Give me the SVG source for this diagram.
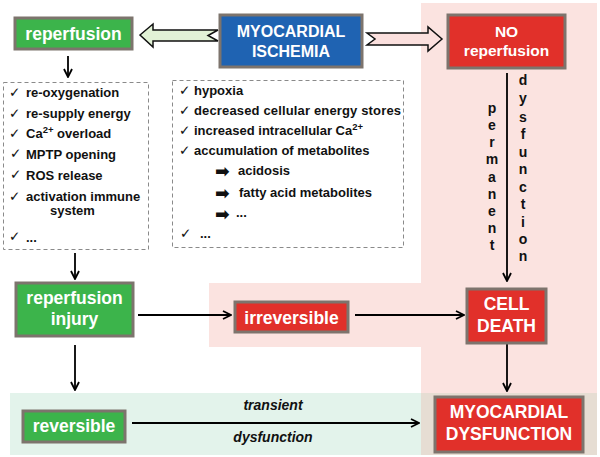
<svg xmlns="http://www.w3.org/2000/svg" width="600" height="457" viewBox="0 0 600 457">
<defs>
<marker id="ah" viewBox="0 0 10 10" refX="9" refY="5" markerWidth="10" markerHeight="10" markerUnits="userSpaceOnUse" orient="auto">
<path d="M1,1 L9,5 L1,9" fill="none" stroke="#000" stroke-width="1.8"/>
</marker>
<style>
.box{stroke:#7d746d;stroke-width:3}
.g{fill:#3cb44b}.r{fill:#e1302a}.b{fill:#1f63b2}
.lbl{font-family:"Liberation Sans",Arial,sans-serif;font-weight:bold;fill:#fff;text-anchor:middle;font-size:17.5px}
.li{font-family:"Liberation Sans",Arial,sans-serif;font-weight:bold;fill:#111;font-size:13px}
.ck{font-family:"DejaVu Sans",sans-serif;fill:#111;font-size:13.5px}
.ar{font-family:"DejaVu Sans",sans-serif;font-weight:bold;fill:#111;font-size:17.5px}
.dash{fill:none;stroke:#8a8a8a;stroke-width:1;stroke-dasharray:4,3}
.conn{stroke:#000;stroke-width:1.8;fill:none;marker-end:url(#ah)}
.vt{font-family:"Liberation Sans",Arial,sans-serif;font-weight:bold;fill:#111;font-size:14px;text-anchor:middle}
.it{font-family:"Liberation Sans",Arial,sans-serif;font-weight:bold;font-style:italic;fill:#111;font-size:14px;text-anchor:middle}
</style>
</defs>
<rect width="600" height="457" fill="#fff"/>
<g id="backgrounds">
<rect x="421" y="3" width="176" height="390" fill="#fbe3e0"/>
<rect x="209" y="283" width="212" height="64" fill="#fbe3e0"/>
<rect x="10" y="393" width="411" height="62" fill="#e3f3eb"/>
<rect x="421" y="393" width="176" height="62" fill="#e6ddd3"/>
</g>
<g id="connectors">
<polygon points="140,35 153,24 153,30 218,30 208,35.5 218,41 153,41 153,47" fill="#e2f2d6" stroke="#111" stroke-width="1.5"/>
<polygon points="367,33 428,33 428,27 442,39 428,51 428,45 367,45 375,39" fill="#fbe0de" stroke="#111" stroke-width="1.5"/>
<line class="conn" x1="68" y1="56" x2="68" y2="77"/>
<line class="conn" x1="75" y1="253" x2="75" y2="279"/>
<line class="conn" x1="75" y1="345" x2="75" y2="390"/>
<line class="conn" x1="138" y1="315" x2="231" y2="315"/>
<line class="conn" x1="355" y1="315" x2="464" y2="315"/>
<line class="conn" x1="507" y1="73" x2="507" y2="281"/>
<line class="conn" x1="507" y1="344" x2="507" y2="391"/>
<line class="conn" x1="132" y1="423" x2="419" y2="423"/>
<text class="vt"><tspan x="492" y="113">p</tspan><tspan x="492" y="130">e</tspan><tspan x="492" y="147">r</tspan><tspan x="492" y="164">m</tspan><tspan x="492" y="182">a</tspan><tspan x="492" y="199">n</tspan><tspan x="492" y="216">e</tspan><tspan x="492" y="233">n</tspan><tspan x="492" y="250">t</tspan></text>
<text class="vt"><tspan x="523" y="85">d</tspan><tspan x="523" y="103">y</tspan><tspan x="523" y="122">s</tspan><tspan x="523" y="139">f</tspan><tspan x="523" y="157">u</tspan><tspan x="523" y="174">n</tspan><tspan x="523" y="192">c</tspan><tspan x="523" y="209">t</tspan><tspan x="523" y="227">i</tspan><tspan x="523" y="244">o</tspan><tspan x="523" y="261">n</tspan></text>
<text class="it" x="273" y="410">transient</text>
<text class="it" x="273" y="442">dysfunction</text>
</g>
<g id="reperfusion">
<rect class="box g" x="15" y="18" width="117" height="31"/>
<text class="lbl" x="73.5" y="40">reperfusion</text>
</g>
<g id="ischemia">
<rect class="box b" x="220" y="15" width="142" height="52"/>
<text class="lbl" x="291" y="37" style="font-size:16px">MYOCARDIAL</text>
<text class="lbl" x="291" y="57" style="font-size:16px">ISCHEMIA</text>
</g>
<g id="no-reperfusion">
<rect class="box r" x="448" y="15" width="117" height="53"/>
<text class="lbl" x="506.5" y="37" style="font-size:15.5px">NO</text>
<text class="lbl" x="506.5" y="56" style="font-size:15.5px">reperfusion</text>
</g>
<g id="reperfusion-list">
<rect class="dash" x="3.5" y="82.5" width="145" height="167"/>
<text class="ck" x="9" y="97">✓</text><text class="li" x="26" y="97">re-oxygenation</text>
<text class="ck" x="9" y="118">✓</text><text class="li" x="26" y="118">re-supply energy</text>
<text class="ck" x="9" y="138">✓</text><text class="li" x="26" y="138">Ca<tspan dy="-5" font-size="9.5px">2+</tspan><tspan dy="5"> overload</tspan></text>
<text class="ck" x="10" y="158">✓</text><text class="li" x="26" y="159">MPTP opening</text>
<text class="ck" x="10" y="179">✓</text><text class="li" x="26" y="180">ROS release</text>
<text class="ck" x="9" y="201">✓</text><text class="li" x="26" y="201">activation immune</text>
<text class="li" x="50" y="215">system</text>
<text class="ck" x="9" y="241">✓</text><text class="li" x="26" y="242">...</text>
</g>
<g id="ischemia-list">
<rect class="dash" x="172.5" y="80.5" width="231" height="167"/>
<text class="ck" x="179" y="95">✓</text><text class="li" x="194" y="95">hypoxia</text>
<text class="ck" x="179" y="115">✓</text><text class="li" x="194" y="115" textLength="207">decreased cellular energy stores</text>
<text class="ck" x="179" y="135">✓</text><text class="li" x="194" y="135">increased intracellular Ca<tspan dy="-5" font-size="9.5px">2+</tspan></text>
<text class="ck" x="179" y="155">✓</text><text class="li" x="194" y="155">accumulation of metabolites</text>
<text class="ar" x="215" y="177">➡</text><text class="li" x="238" y="175">acidosis</text>
<text class="ar" x="215" y="199">➡</text><text class="li" x="239" y="197">fatty acid metabolites</text>
<text class="ar" x="215" y="220">➡</text><text class="li" x="236" y="217">...</text>
<text class="ck" x="180" y="238">✓</text><text class="li" x="200" y="238">...</text>
</g>
<g id="reperfusion-injury">
<rect class="box g" x="16" y="283" width="117" height="53"/>
<text class="lbl" x="74.5" y="304">reperfusion</text>
<text class="lbl" x="74.5" y="325">injury</text>
</g>
<g id="irreversible">
<rect class="box r" x="235" y="302" width="113" height="30"/>
<text class="lbl" x="291.5" y="324">irreversible</text>
</g>
<g id="cell-death">
<rect class="box r" x="467" y="289" width="79" height="54"/>
<text class="lbl" x="506.5" y="310">CELL</text>
<text class="lbl" x="506.5" y="332">DEATH</text>
</g>
<g id="reversible">
<rect class="box g" x="23" y="411" width="102" height="31"/>
<text class="lbl" x="74" y="432">reversible</text>
</g>
<g id="myocardial-dysfunction">
<rect class="box r" x="435" y="397" width="148" height="55"/>
<text class="lbl" x="509" y="418">MYOCARDIAL</text>
<text class="lbl" x="509" y="440">DYSFUNCTION</text>
</g>
</svg>
